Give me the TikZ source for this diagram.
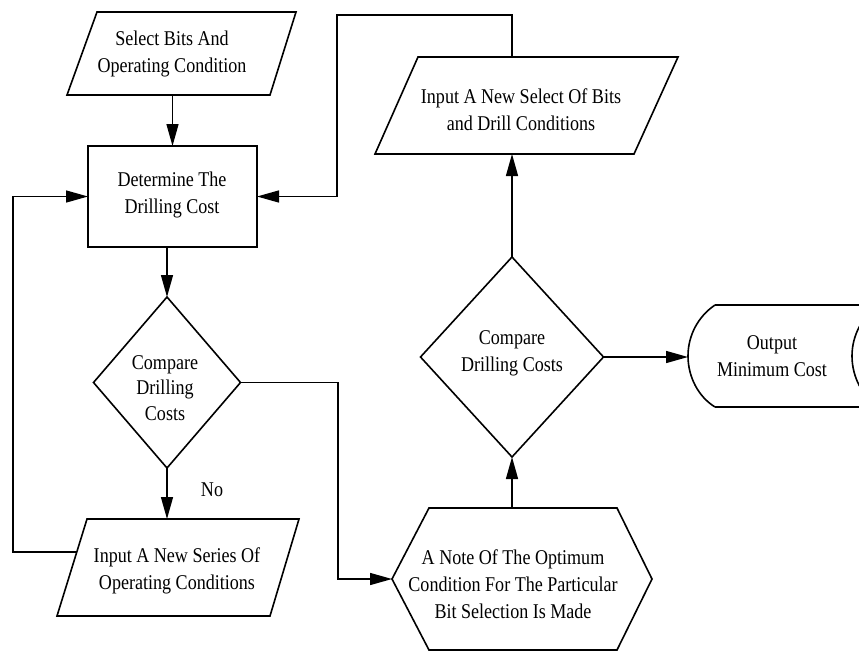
\documentclass[tikz,border=0pt]{standalone}
\usepackage{fontspec}
\setmainfont{Liberation Serif}[FakeStretch=0.86]
\usetikzlibrary{arrows.meta,calc,shapes.geometric}
\begin{document}
\begin{tikzpicture}[x=1pt,y=-1pt,line width=1.6pt,line join=miter,
  bbox/.style={inner sep=0pt,outer sep=0pt},
  txt/.style={align=center,font=\fontsize{21}{27}\selectfont,inner sep=0pt},
  dmd/.style={draw,diamond,inner sep=0pt,outer sep=0pt},
  arr/.style={-{Triangle[length=22pt,width=12pt]},line width=1.4pt}]
\clip (0,0) rectangle (859,654);
\fill[white] (0,0) rectangle (859,654);

% shapes
\node[bbox,minimum width=229pt,minimum height=83pt] (sel) at (181.5,53.5) {};
\draw ($(sel.north west)+(30,0)$) -- (sel.north east) -- ($(sel.south east)-(26,0)$) -- (sel.south west) -- cycle;
\node[txt] (selT) at (172,54) {Select Bits And\\Operating Condition};

\node[draw,bbox,minimum width=169pt,minimum height=101pt] (det) at (172.5,196.5) {};
\node[txt] (detT) at (172,195) {Determine The\\Drilling Cost};

\node[dmd,minimum width=147pt,minimum height=171pt] (cmp1) at (167,382.5) {};
\node[txt,font=\fontsize{21}{25.5}\selectfont] (cmp1T) at (165,388) {Compare\\Drilling\\Costs};

\node[bbox,minimum width=242pt,minimum height=97pt] (ser) at (178,567.5) {};
\draw ($(ser.north west)+(30,0)$) -- (ser.north east) -- ($(ser.south east)-(29,0)$) -- (ser.south west) -- cycle;
\node[txt] (serT) at (177,571) {Input A New Series Of\\Operating Conditions};
\coordinate (serL) at (77,552);

\node[bbox,minimum width=303pt,minimum height=97pt] (sel2) at (526.5,105.5) {};
\draw ($(sel2.north west)+(43,0)$) -- (sel2.north east) -- ($(sel2.south east)-(44,0)$) -- (sel2.south west) -- cycle;
\node[txt] (sel2T) at (521,110) {Input A New Select Of Bits\\and Drill Conditions};

\node[dmd,minimum width=183pt,minimum height=200pt] (cmp2) at (512,357) {};
\node[txt] (cmp2T) at (512,353) {Compare\\Drilling Costs};

\node[bbox,minimum width=260pt,minimum height=142pt] (note) at (522,579) {};
\draw (note.west) -- ($(note.north west)+(37,0)$) -- ($(note.north east)-(35,0)$) -- (note.east)
  -- ($(note.south east)-(35,0)$) -- ($(note.south west)+(37,0)$) -- cycle;
\node[txt] (noteT) at (513,584) {A Note Of The Optimum\\Condition For The Particular\\Bit Selection Is Made};

\node[bbox,minimum width=192pt,minimum height=102pt] (out) at (784,356) {};
\draw (715,305) -- (885,305);
\draw (715,407) -- (885,407);
\draw (715,305) .. controls (698,316.5) and (688,335.5) .. (out.west)
  .. controls (688,376.5) and (698,396.5) .. (715,407);
\draw (879,305) .. controls (862,316.5) and (852,335.5) .. (852,356)
  .. controls (852,376.5) and (862,396.5) .. (879,407);
\node[txt] (outT) at (772,356) {Output\\Minimum Cost};

% helper coordinates
\coordinate (loopL) at (13,0);
\coordinate (midX) at (338,0);
\coordinate (loopT) at (337,15);

% connectors
\draw[arr] (sel.south -| det.north) -- (det.north);
\draw[arr] (det.south -| cmp1.north) -- (cmp1.north);
\draw[arr] (cmp1.south) -- (cmp1.south |- ser.north);
\node[txt] (no) at (212,490) {No};
\draw[arr] (serL) -- (serL -| loopL) |- (det.west);
\draw[arr] (cmp1.east) -- (cmp1.east -| midX) |- (note.west);
\draw[arr] (note.north -| cmp2.south) -- (cmp2.south);
\draw[arr] (cmp2.north) -- (cmp2.north |- sel2.south);
\draw[arr] (sel2.north -| cmp2.north) |- (loopT) |- (det.east);
\draw[arr] (cmp2.east) -- (cmp2.east -| out.west);
\end{tikzpicture}
\end{document}
